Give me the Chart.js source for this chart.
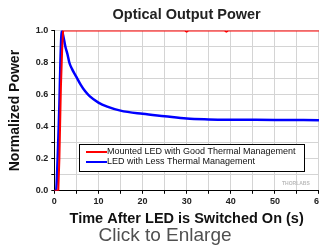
<!DOCTYPE html>
<html>
<head>
<meta charset="utf-8">
<script src="https://cdn.jsdelivr.net/npm/chart.js@4"></script>
<style>
  body { margin: 0; background: #fff; overflow: hidden; }
  #wrap { position: relative; width: 319px; height: 248px; overflow: hidden; }
  #chart { position: absolute; left: 0; top: 0; }
  #enlarge { position: absolute; left: 0; width: 330px; top: 224px; text-align: center;
             font: 19px "Liberation Sans", Arial, sans-serif; color: #505050; }
</style>
</head>
<body>
<div id="wrap">
  <canvas id="chart" width="326" height="228"></canvas>
  <div id="enlarge">Click to Enlarge</div>
</div>
<script>
// Mounted LED with good thermal management (red)
const goodT = [0, 0.9, 1.15, 1.5, 1.8, 2.0, 2.3, 3, 10, 20, 29.5, 30, 30.5, 38.5, 39, 39.5, 45, 50, 60];
const goodP = [0, 0, 0.2, 0.65, 0.9, 1.0, 1.0, 1.0, 1.0, 1.0, 1.0, 0.993, 1.0, 1.0, 0.993, 1.0, 1.0, 1.0, 1.0];

// LED with less thermal management (blue)
const lessT = [0, 0.4, 0.75, 1.0, 1.15, 1.4, 1.7, 2.0, 2.5, 3, 3.4, 4, 5, 6, 7, 8, 10, 12, 15, 20, 25, 30, 35, 40, 50, 60];
const lessP = [0, 0, 0.2, 0.4, 0.54, 0.82, 1.0, 0.97, 0.9, 0.85, 0.8, 0.76, 0.71, 0.66, 0.62, 0.59, 0.55, 0.525, 0.5, 0.48, 0.465, 0.45, 0.445, 0.443, 0.442, 0.44];

const xTicks = [0, 10, 20, 30, 40, 50, 60];
const yTicks = [0.0, 0.2, 0.4, 0.6, 0.8, 1.0];

const toPts = (xs, ys) => xs.map((x, i) => ({ x: x, y: ys[i] }));
const font = '"Liberation Sans", Arial, sans-serif';

const legendBox = {
  id: 'legendBox',
  afterDraw(chart) {
    const ctx = chart.ctx;
    const x0 = 79, y0 = 144, w = 225, h = 27;
    ctx.save();
    ctx.fillStyle = '#fff';
    ctx.fillRect(x0, y0, w, h);
    ctx.strokeStyle = '#000';
    ctx.lineWidth = 1;
    ctx.strokeRect(x0 + 0.5, y0 + 0.5, w, h);
    ctx.font = '9px ' + font;
    ctx.textBaseline = 'middle';
    chart.data.datasets.forEach((ds, i) => {
      const y = y0 + 8 + i * 10;
      ctx.strokeStyle = ds.borderColor;
      ctx.lineWidth = 2;
      ctx.beginPath();
      ctx.moveTo(x0 + 7, y);
      ctx.lineTo(x0 + 28, y);
      ctx.stroke();
      ctx.fillStyle = '#111';
      ctx.fillText(ds.label, x0 + 28, y);
    });
    ctx.font = 'bold 5px ' + font;
    ctx.fillStyle = '#bbb';
    ctx.fillText('THORLABS', 282, 184);
    ctx.restore();
  }
};

new Chart(document.getElementById('chart').getContext('2d'), {
  type: 'line',
  data: {
    datasets: [{
      label: 'Mounted LED with Good Thermal Management',
      data: toPts(goodT, goodP),
      borderColor: 'rgb(255, 0, 0)',
      borderWidth: 2,
      pointRadius: 0,
      tension: 0
    }, {
      label: 'LED with Less Thermal Management',
      data: toPts(lessT, lessP),
      borderColor: 'rgb(0, 0, 255)',
      borderWidth: 2.5,
      pointRadius: 0,
      cubicInterpolationMode: 'monotone'
    }]
  },
  options: {
    responsive: false,
    animation: false,
    layout: { padding: { left: 7, right: 0, top: 0, bottom: 0 } },
    plugins: {
      legend: { display: false },
      tooltip: { enabled: false },
      title: {
        display: true,
        fullSize: false,
        text: 'Optical Output Power',
        color: '#222',
        font: { family: font, size: 14.5, weight: 'bold' },
        padding: { top: 6, bottom: 7 }
      }
    },
    scales: {
      x: {
        type: 'linear',
        min: 0, max: 60,
        afterBuildTicks: axis => {
          axis.ticks = [];
          for (let v = 0; v <= 60; v += 5) axis.ticks.push({ value: v });
        },
        ticks: {
          color: '#222',
          font: { family: font, size: 9, weight: 'bold' },
          padding: 2,
          maxRotation: 0,
          callback: v => xTicks.includes(v) ? String(v) : ''
        },
        grid: { color: '#d4d4d4', tickLength: 3, tickColor: '#000' },
        border: { color: '#000', width: 1 },
        title: {
          display: true,
          text: 'Time After LED is Switched On (s)',
          color: '#111',
          font: { family: font, size: 14.5, weight: 'bold' },
          padding: { top: 2, bottom: 0 }
        }
      },
      y: {
        min: 0, max: 1,
        afterBuildTicks: axis => {
          axis.ticks = [];
          for (let v = 0; v <= 10; v++) axis.ticks.push({ value: v / 10 });
        },
        ticks: {
          color: '#222',
          font: { family: font, size: 9, weight: 'bold' },
          padding: 3,
          callback: v => {
            const r = Math.round(v * 10) / 10;
            return yTicks.some(t => Math.abs(t - r) < 1e-6) ? r.toFixed(1) : '';
          }
        },
        grid: { color: '#d4d4d4', tickLength: 3, tickColor: '#000' },
        border: { color: '#000', width: 1 },
        title: {
          display: true,
          text: 'Normalized Power',
          color: '#111',
          font: { family: font, size: 14, weight: 'bold' },
          padding: { top: 0, bottom: 9 }
        }
      }
    }
  },
  plugins: [legendBox]
});
</script>
</body>
</html>
